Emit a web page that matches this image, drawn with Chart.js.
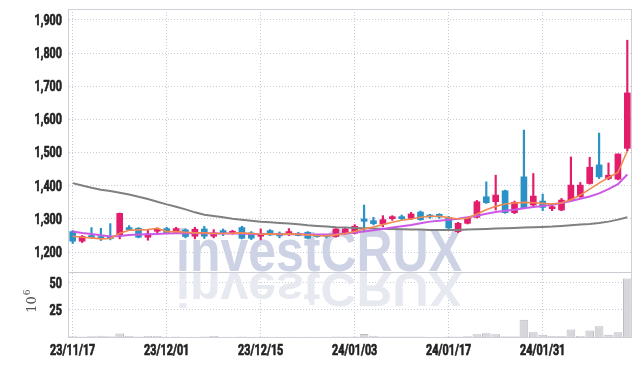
<!DOCTYPE html>
<html><head><meta charset="utf-8">
<script src="https://cdn.jsdelivr.net/npm/chart.js@4.4.1/dist/chart.umd.min.js"></script>
<style>html,body{margin:0;padding:0;background:#fff;}#wrap{width:642px;height:366px;position:relative;}</style>
</head><body><div id="wrap"><canvas id="c" width="642" height="366"></canvas></div>
<script>
const dates = ['23/11/17','23/11/20','23/11/21','23/11/22','23/11/23','23/11/24','23/11/27','23/11/28','23/11/29','23/11/30',
 '23/12/01','23/12/04','23/12/05','23/12/06','23/12/07','23/12/08','23/12/11','23/12/12','23/12/13','23/12/14',
 '23/12/15','23/12/18','23/12/19','23/12/20','23/12/21','23/12/22','23/12/26','23/12/27','23/12/28','24/01/02',
 '24/01/03','24/01/04','24/01/05','24/01/08','24/01/09','24/01/10','24/01/11','24/01/12','24/01/15','24/01/16',
 '24/01/17','24/01/18','24/01/19','24/01/22','24/01/23','24/01/24','24/01/25','24/01/26','24/01/29','24/01/30',
 '24/01/31','24/02/01','24/02/02','24/02/05','24/02/06','24/02/07','24/02/08','24/02/13','24/02/14','24/02/15'];
const xLabelDates = ['23/11/17','23/12/01','23/12/15','24/01/03','24/01/17','24/01/31'];

const openP  = [1262,1233,1249,1247,1247,1252,1274,1272,1245,1263, 1271,1260,1267,1248,1270,1248,1262,1256,1274,1258,
                1248,1265,1257,1254,1255,1260,1250,1250,1247,1256, 1257,1300,1295,1285,1301,1306,1302,1321,1311,1314,
                1305,1262,1287,1305,1367,1352,1385,1319,1427,1342, 1354,1331,1327,1357,1367,1407,1463,1422,1420,1513];
const highP  = [1265,1250,1274,1272,1286,1318,1280,1274,1268,1273, 1275,1275,1270,1275,1278,1268,1270,1266,1278,1262,
                1270,1268,1261,1271,1260,1262,1253,1253,1271,1272, 1283,1342,1305,1310,1310,1312,1320,1324,1314,1316,
                1308,1290,1305,1356,1412,1432,1387,1354,1568,1437, 1375,1345,1362,1487,1410,1486,1559,1469,1496,1839];
const lowP   = [1226,1229,1241,1235,1237,1240,1265,1243,1236,1258, 1256,1257,1243,1240,1241,1243,1250,1254,1240,1238,
                1237,1250,1243,1250,1249,1240,1245,1243,1245,1254, 1255,1262,1282,1276,1296,1297,1298,1296,1302,1302,
                1270,1259,1285,1303,1347,1327,1317,1316,1332,1338, 1325,1325,1325,1353,1365,1405,1422,1418,1418,1505];
const closeP = [1233,1247,1244,1241,1241,1317,1268,1245,1255,1269, 1258,1271,1247,1269,1248,1258,1259,1263,1242,1242,
                1256,1252,1249,1262,1250,1242,1247,1247,1270,1270, 1278,1293,1286,1298,1306,1301,1315,1298,1306,1306,
                1273,1287,1302,1352,1349,1372,1319,1350,1334,1369, 1335,1337,1357,1402,1402,1456,1427,1432,1496,1680];
const ma5    = [1248,1245,1243,1240,1241,1257,1266,1267,1268,1272, 1262,1262,1260,1258,1258,1256,1256,1257,1258,1256,
                1254,1255,1254,1255,1254,1252,1250,1249,1252,1256, 1262,1270,1276,1283,1290,1296,1300,1305,1308,1308,
                1304,1300,1302,1315,1328,1338,1345,1348,1350,1349, 1347,1345,1348,1358,1372,1390,1408,1425,1440,1505];
const ma20   = [1262,1258,1255,1251,1247,1249,1252,1253,1254,1255, 1256,1257,1257,1257,1257,1256,1256,1256,1256,1255,
                1255,1255,1254,1254,1254,1253,1253,1253,1254,1256, 1259,1262,1266,1270,1274,1278,1282,1287,1292,1295,
                1298,1301,1305,1310,1316,1321,1325,1328,1332,1336, 1339,1343,1348,1354,1361,1368,1377,1390,1405,1434];
const ma120  = [1408,1401,1394,1388,1384,1379,1374,1367,1360,1352, 1344,1337,1329,1320,1313,1309,1305,1301,1298,1295,
                1292,1290,1288,1286,1284,1281,1279,1277,1275,1274, 1273,1272,1271,1270,1270,1269,1268,1268,1267,1267,
                1267,1267,1268,1269,1270,1271,1272,1273,1274,1275, 1276,1277,1279,1281,1283,1285,1288,1292,1298,1305];
const volume = [0.8,0.5,0.6,1.2,0.8,3.2,1.0,0.4,1.0,1.0, 0.3,0.4,0.3,0.3,0.4,0.9,0.3,0.3,0.4,0.3,
                0.3,0.3,0.3,0.3,0.3,0.3,0.3,0.3,0.4,0.4, 0.5,2.8,1.2,0.5,0.4,0.4,0.5,0.4,0.3,0.3,
                0.4,0.5,0.6,2.5,3.5,2.5,0.8,0.8,16,4.5, 2.0,1.0,1.0,7.0,1.0,6.0,10,2.0,4.5,54];
const priceTicks = [1200,1300,1400,1500,1600,1700,1800,1900];
const volumeTicks = [25,50];

const UP = '#e31c6c', DOWN = '#2c91c5';
const candleColors = closeP.map((c, i) => c >= openP[i] ? UP : DOWN);
const LABEL_FONT = "bold 15px 'Roboto','Liberation Sans',sans-serif";
const GRID = '#c7cad8';

function condensedText(ctx, text, x, y, align) {
  ctx.save();
  ctx.translate(x, y);
  ctx.scale(0.72, 1);
  ctx.textAlign = align;
  ctx.textBaseline = 'middle';
  ctx.lineWidth = 0.7;
  ctx.strokeStyle = ctx.fillStyle;
  ctx.strokeText(text, 0, 0);
  ctx.fillText(text, 0, 0);
  ctx.restore();
}

const framePlugin = {
  id: 'frame',
  beforeDatasetsDraw(chart) {
    const {ctx, chartArea: a, scales} = chart;
    const yv = scales.yv;
    ctx.save();
    ctx.font = "bold 60px 'Liberation Sans','Arial',sans-serif";
    const txt = 'investCRUX';
    const w = ctx.measureText(txt).width;
    const sx = 286 / w;
    const left = a.left + 108;
    const base = yv.top - 1;
    ctx.save();
    ctx.translate(left, base);
    ctx.scale(sx, 1);
    ctx.fillStyle = '#cdd3e5';
    ctx.fillText(txt, 0, 0);
    ctx.restore();
    ctx.save();
    ctx.translate(left, base + 2);
    ctx.scale(sx, -0.8);
    ctx.fillStyle = '#e7e9f1';
    ctx.fillText(txt, 0, 0);
    ctx.restore();
    ctx.strokeStyle = '#c9cad2';
    ctx.lineWidth = 1;
    ctx.beginPath();
    ctx.moveTo(a.left, Math.round(yv.top) + 0.5);
    ctx.lineTo(a.right, Math.round(yv.top) + 0.5);
    ctx.stroke();
    ctx.restore();
  },
  afterDraw(chart) {
    const {ctx, chartArea: a, scales} = chart;
    const {x, y, yv} = scales;
    ctx.save();
    ctx.strokeStyle = '#d0d1d8';
    ctx.lineWidth = 1;
    ctx.strokeRect(Math.round(a.left) + 0.5, Math.round(a.top) + 0.5, Math.round(a.right - a.left) - 1, Math.round(a.bottom - a.top));
    ctx.fillStyle = '#222';
    ctx.font = LABEL_FONT;
    priceTicks.forEach(v => condensedText(ctx, v.toLocaleString('en-US'), a.left - 6, y.getPixelForValue(v) + 1, 'right'));
    volumeTicks.forEach(v => condensedText(ctx, v.toLocaleString('en-US'), a.left - 6, yv.getPixelForValue(v) + 1, 'right'));
    dates.forEach((d, i) => {
      if (xLabelDates.includes(d)) condensedText(ctx, d, x.getPixelForValue(i), a.bottom + 14, 'center');
    });
    const cy = (yv.top + yv.bottom) / 2 - 3;
    ctx.translate(33, cy);
    ctx.rotate(-Math.PI / 2);
    ctx.fillStyle = '#555';
    ctx.textBaseline = 'middle';
    ctx.font = "13px 'DejaVu Serif',serif";
    const w10 = ctx.measureText('10').width;
    ctx.fillText('10', -w10 / 2 - 3, 0);
    ctx.font = "9px 'DejaVu Serif',serif";
    ctx.fillText('6', w10 / 2 - 2, -5);
    ctx.restore();
  }
};

new Chart(document.getElementById('c'), {
  type: 'bar',
  data: {
    labels: dates,
    datasets: [
      {type: 'line', data: ma5, borderColor: '#f08a4e', borderWidth: 1.6, pointRadius: 0, yAxisID: 'y', order: 0},
      {type: 'line', data: ma20, borderColor: '#cc58e6', borderWidth: 2, pointRadius: 0, yAxisID: 'y', order: 1},
      {type: 'line', data: ma120, borderColor: '#808080', borderWidth: 2, pointRadius: 0, yAxisID: 'y', order: 2},
      {type: 'bar', data: openP.map((o, i) => [o, closeP[i]]), backgroundColor: candleColors, barThickness: 6, minBarLength: 2, grouped: false, yAxisID: 'y', order: 3},
      {type: 'bar', data: lowP.map((l, i) => [l, highP[i]]), backgroundColor: candleColors, barThickness: 1.5, grouped: false, yAxisID: 'y', order: 4},
      {type: 'bar', data: volume, backgroundColor: '#d6d6db', borderColor: '#bcbcc4', borderWidth: 1, barPercentage: 0.92, categoryPercentage: 1, grouped: false, yAxisID: 'yv', order: 5}
    ]
  },
  options: {
    responsive: false, animation: false, events: [],
    layout: {padding: {top: 9, right: 10, left: 0, bottom: 0}},
    plugins: {legend: {display: false}, tooltip: {enabled: false}},
    scales: {
      x: {
        offset: true,
        grid: {color: GRID, drawTicks: false, offset: false},
        border: {display: false, dash: [1, 2]},
        ticks: {autoSkip: false, maxRotation: 0, minRotation: 0, padding: 7, color: 'rgba(0,0,0,0)', font: {size: 12},
          callback: (v, i) => xLabelDates.includes(dates[i]) ? dates[i] : null},
        afterFit: s => { s.height = 29; }
      },
      yv: {
        position: 'left', stack: 'panels', stackWeight: 1, min: 0, max: 60,
        grid: {color: GRID, drawTicks: false},
        border: {display: true, color: '#c9cad2', dash: [1, 2]},
        ticks: {display: false},
        afterBuildTicks: s => { s.ticks = volumeTicks.map(v => ({value: v})); },
        afterFit: s => { s.width = 68; }
      },
      y: {
        position: 'left', stack: 'panels', stackWeight: 4.05, min: 1140, max: 1933,
        grid: {color: GRID, drawTicks: false},
        border: {display: true, color: '#c9cad2', dash: [1, 2]},
        ticks: {display: false},
        afterBuildTicks: s => { s.ticks = priceTicks.map(v => ({value: v})); },
        afterFit: s => { s.width = 68; }
      }
    }
  },
  plugins: [framePlugin]
});
</script>
</body></html>
